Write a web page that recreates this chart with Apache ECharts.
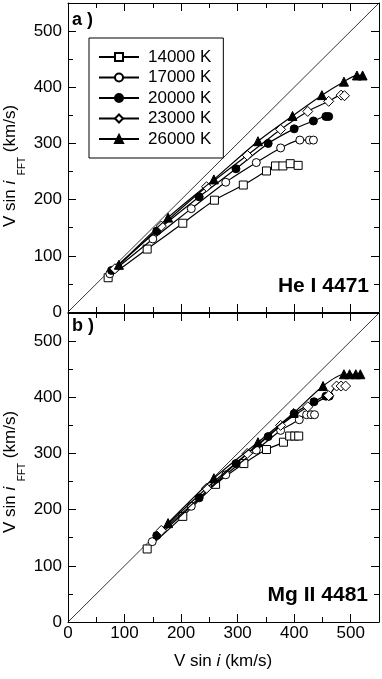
<!DOCTYPE html>
<html>
<head>
<meta charset="utf-8">
<script src="https://cdn.jsdelivr.net/npm/echarts@6/dist/echarts.min.js"></script>
<style>
html,body{margin:0;padding:0;background:#fff;}
#chart{width:382px;height:679px;}
</style>
</head>
<body>
<div id="chart"></div>
<script>
// ---- data ----
const seriesNames = ['14000 K', '17000 K', '20000 K', '23000 K', '26000 K'];
const tickLabels = [0, 100, 200, 300, 400, 500];
const axisMin = 0;
const axisMax = 550;
const diagonal = [[0, 0], [550, 550]];

// Panel a) He I 4471  : [V sin i, V sin i FFT]
const he14000 = [[71,61],[140,112],[203,158],[259,199],[310,226],[351,251],[367,260],[380,260],[393,264],[407,261]];
const he17000 = [[74,68],[150,130],[218,184],[279,231],[333,266],[376,292],[410,306],[427,306],[434,306]];
const he20000 = [[77,74],[157,144],[232,205],[297,255],[354,300],[400,326],[434,340],[456,348],[461,348]];
const he23000 = [[83,77],[165,153],[245,223],[317,279],[376,325],[424,357],[461,375],[483,386],[489,385]];
const he26000 = [[90,84],[177,168],[258,236],[336,304],[397,349],[449,386],[488,410],[511,421],[521,421]];

// Panel b) Mg II 4481
const mg14000 = [[140,130],[203,188],[261,245],[311,282],[351,307],[381,320],[392,331],[401,331],[408,331]];
const mg17000 = [[149,143],[218,206],[279,262],[333,306],[376,341],[409,360],[422,369],[430,369],[436,369]];
const mg20000 = [[157,154],[232,221],[297,282],[354,330],[400,371],[435,392],[456,402],[462,402]];
const mg23000 = [[165,163],[245,238],[317,300],[376,350],[424,383],[461,403],[475,420],[483,420],[491,420]];
const mg26000 = [[177,176],[258,256],[336,320],[399,372],[451,420],[488,441],[498,441],[509,441],[517,441]];

// ---- styles ----
const FONT = "'Liberation Sans', Arial, sans-serif";
const symbolStyles = [
  {symbol: 'rect', symbolSize: 8, fill: '#fff'},
  {symbol: 'circle', symbolSize: 8, fill: '#fff'},
  {symbol: 'circle', symbolSize: 8, fill: '#000'},
  {symbol: 'diamond', symbolSize: 10, fill: '#fff'},
  {symbol: 'triangle', symbolSize: 9, fill: '#000'}
];

const grids = [
  {left: 68, top: 3, width: 311, height: 309},
  {left: 68, top: 313, width: 311, height: 309}
];

function labelFmt(v) { return tickLabels.indexOf(v) >= 0 ? String(v) : ''; }

const xAxes = [];
const yAxes = [];
function addAxes(gi, showXLabels) {
  ['bottom', 'top'].forEach(function (pos) {
    xAxes.push({
      gridIndex: gi, type: 'value', min: axisMin, max: axisMax, interval: 50, position: pos,
      axisLine: {show: true, onZero: false, lineStyle: {color: '#000', width: 1}},
      axisTick: {show: true, inside: true, length: 5, lineStyle: {color: '#000', width: 1}},
      axisLabel: {show: false}, splitLine: {show: false}
    });
    xAxes.push({
      gridIndex: gi, type: 'value', min: axisMin, max: axisMax, interval: 100, position: pos,
      axisLine: {show: false, onZero: false},
      axisTick: {show: true, inside: true, length: 8, lineStyle: {color: '#000', width: 1}},
      axisLabel: {show: pos === 'bottom' && showXLabels, margin: 3, formatter: labelFmt,
        color: '#000', fontSize: 17, fontFamily: FONT, showMaxLabel: false},
      splitLine: {show: false}
    });
  });
  ['left', 'right'].forEach(function (pos) {
    yAxes.push({
      gridIndex: gi, type: 'value', min: axisMin, max: axisMax, interval: 50, position: pos,
      axisLine: {show: true, onZero: false, lineStyle: {color: '#000', width: 1}},
      axisTick: {show: true, inside: true, length: 5, lineStyle: {color: '#000', width: 1}},
      axisLabel: {show: false}, splitLine: {show: false}
    });
    yAxes.push({
      gridIndex: gi, type: 'value', min: axisMin, max: axisMax, interval: 100, position: pos,
      axisLine: {show: false, onZero: false},
      axisTick: {show: true, inside: true, length: 8, lineStyle: {color: '#000', width: 1}},
      axisLabel: {show: pos === 'left', margin: 6, formatter: labelFmt,
        color: '#000', fontSize: 17, fontFamily: FONT, showMaxLabel: false},
      splitLine: {show: false}
    });
  });
}
addAxes(0, false);
addAxes(1, true);

const series = [];
function addPanel(gi, dataSets) {
  series.push({
    name: 'diag', type: 'line', xAxisIndex: gi * 4, yAxisIndex: gi * 4,
    data: diagonal, symbol: 'none', silent: true,
    lineStyle: {color: '#000', width: 0.8}, z: 1
  });
  dataSets.forEach(function (d, i) {
    const s = symbolStyles[i];
    series.push({
      name: seriesNames[i], type: 'line', xAxisIndex: gi * 4, yAxisIndex: gi * 4,
      data: d, symbol: s.symbol, symbolSize: s.symbolSize, smooth: 0.25,
      showAllSymbol: true,
      lineStyle: {color: '#000', width: 1.2},
      itemStyle: {color: s.fill, borderColor: '#000', borderWidth: 1},
      emphasis: {disabled: true}, z: 3 + i
    });
  });
}
addPanel(0, [he14000, he17000, he20000, he23000, he26000]);
addPanel(1, [mg14000, mg17000, mg20000, mg23000, mg26000]);

const axisTitleRich = {
  n: {fontSize: 17, fontFamily: FONT, color: '#000', lineHeight: 34},
  it: {fontSize: 17, fontFamily: FONT, fontStyle: 'italic', color: '#000', lineHeight: 34},
  s: {fontSize: 10, fontFamily: FONT, color: '#000', lineHeight: 10, verticalAlign: 'bottom'}
};

const chart = echarts.init(document.getElementById('chart'), null, {renderer: 'canvas'});
chart.setOption({
  animation: false,
  backgroundColor: '#fff',
  grid: grids,
  xAxis: xAxes,
  yAxis: yAxes,
  legend: {
    data: seriesNames,
    orient: 'vertical',
    left: 89, top: 38,
    itemWidth: 40, itemHeight: 10, itemGap: 0.5,
    padding: [9, 12, 9, 9],
    borderColor: '#000', borderWidth: 1, backgroundColor: '#fff',
    selectedMode: false,
    textStyle: {fontSize: 17, fontFamily: FONT, color: '#000', lineHeight: 20, padding: [0, 0, 0, 4]}
  },
  series: series,
  graphic: [
    {type: 'text', left: 72, top: 11, z: 10,
      style: {text: 'a )', fontSize: 18, fontWeight: 'bold', fontFamily: FONT, fill: '#000'}},
    {type: 'text', left: 72, top: 317, z: 10,
      style: {text: 'b )', fontSize: 18, fontWeight: 'bold', fontFamily: FONT, fill: '#000'}},
    {type: 'text', x: 369, y: 286, z: 10,
      style: {text: 'He I 4471', fontSize: 21, fontWeight: 'bold', fontFamily: FONT, fill: '#000',
        align: 'right', verticalAlign: 'middle', backgroundColor: '#fff'}},
    {type: 'text', x: 368, y: 595, z: 10,
      style: {text: 'Mg II 4481', fontSize: 21, fontWeight: 'bold', fontFamily: FONT, fill: '#000',
        align: 'right', verticalAlign: 'middle', backgroundColor: '#fff'}},
    {type: 'text', x: 10, y: 166, rotation: Math.PI / 2, z: 10,
      style: {text: '{n|V sin }{it|i}{s|  FFT}{n| (km/s)}', rich: axisTitleRich,
        align: 'center', verticalAlign: 'middle'}},
    {type: 'text', x: 10, y: 472, rotation: Math.PI / 2, z: 10,
      style: {text: '{n|V sin }{it|i}{s|  FFT}{n| (km/s)}', rich: axisTitleRich,
        align: 'center', verticalAlign: 'middle'}},
    {type: 'text', x: 223, y: 661, z: 10,
      style: {text: '{n|V sin }{it|i}{n| (km/s)}', rich: {
        n: {fontSize: 17, fontFamily: FONT, color: '#000'},
        it: {fontSize: 17, fontFamily: FONT, fontStyle: 'italic', color: '#000'}},
        align: 'center', verticalAlign: 'middle'}}
  ]
});
</script>
</body>
</html>
